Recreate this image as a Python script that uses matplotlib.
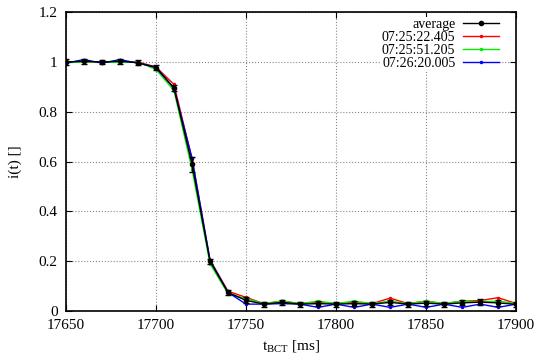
import matplotlib
matplotlib.use("Agg")
import matplotlib.pyplot as plt
from matplotlib.lines import Line2D

plt.rcParams['font.family'] = ['Liberation Serif', 'DejaVu Serif']
plt.rcParams['mathtext.fontset'] = 'stix'

t = [17650, 17660, 17670, 17680, 17690, 17700, 17710, 17720, 17730, 17740,
     17750, 17760, 17770, 17780, 17790, 17800, 17810, 17820, 17830, 17840,
     17850, 17860, 17870, 17880, 17890, 17900]

avg = [1.0, 1.003, 1.0, 1.003, 0.997, 0.977, 0.895, 0.59, 0.2, 0.075,
       0.043, 0.028, 0.035, 0.028, 0.03, 0.028, 0.03, 0.028, 0.035, 0.028,
       0.032, 0.028, 0.033, 0.036, 0.033, 0.027]
avg_err = [0.012, 0.01, 0.01, 0.01, 0.01, 0.01, 0.012, 0.03, 0.01, 0.01,
           0.012, 0.01, 0.01, 0.01, 0.01, 0.01, 0.01, 0.01, 0.01, 0.01,
           0.01, 0.01, 0.01, 0.012, 0.012, 0.01]

run1 = [1.0, 1.0, 1.0, 1.0, 1.0, 0.98, 0.91, 0.61, 0.205, 0.08,
        0.055, 0.03, 0.04, 0.03, 0.035, 0.03, 0.035, 0.03, 0.052, 0.03,
        0.04, 0.03, 0.04, 0.042, 0.054, 0.03]
run2 = [0.998, 1.0, 1.0, 0.998, 1.0, 0.97, 0.885, 0.57, 0.19, 0.07,
        0.05, 0.03, 0.04, 0.03, 0.04, 0.03, 0.04, 0.03, 0.04, 0.03,
        0.04, 0.03, 0.04, 0.037, 0.04, 0.03]
run3 = [0.995, 1.01, 0.995, 1.01, 0.995, 0.98, 0.895, 0.615, 0.205, 0.075,
        0.028, 0.028, 0.03, 0.028, 0.015, 0.028, 0.015, 0.028, 0.015, 0.028,
        0.015, 0.028, 0.015, 0.028, 0.015, 0.028]

labels = ['average', '07:25:22.405', '07:25:51.205', '07:26:20.005']
colors = ['#ff0000', '#00ee00', '#0000ff']

fig = plt.figure(figsize=(5.36, 3.58), dpi=100)
ax = fig.add_axes([0.123, 0.131, 0.840, 0.835])

handles = [Line2D([], [], color='black', lw=1.0, marker='o', ms=3)]
for vals, c in zip([run1, run2, run3], colors):
    h, = ax.plot(t, vals, color=c, lw=1.0, marker='o', ms=1.5, zorder=3)
    handles.append(h)

ax.errorbar(t, avg, yerr=avg_err, color='black', lw=1.0, marker='o', ms=3,
            capsize=2.5, elinewidth=1.0, zorder=4)

ax.set_xlim(17650, 17900)
ax.set_ylim(0, 1.2)
ax.set_xticks([17650, 17700, 17750, 17800, 17850, 17900])
ax.set_yticks([0, 0.2, 0.4, 0.6, 0.8, 1.0, 1.2])
ax.set_yticklabels(['0', '0.2', '0.4', '0.6', '0.8', '1', '1.2'])
ax.tick_params(direction='in', top=True, right=True, labelsize=11, length=4, pad=6)
ax.grid(True, color='#888888', linestyle=':', lw=0.8)
for s in ax.spines.values():
    s.set_linewidth(1.2)

ax.set_xlabel(r'$\mathregular{t_{BCT}}$ [ms]', fontsize=11)
ax.set_ylabel('i(t) []', fontsize=11, labelpad=12)

leg = ax.legend(handles, labels, loc='upper right', bbox_to_anchor=(0.965, 0.984),
                frameon=True, fontsize=10, markerfirst=False, handlelength=2.6,
                borderaxespad=0.0, labelspacing=0.0, handletextpad=0.55,
                borderpad=0.1)
leg.get_frame().set_edgecolor('none')
leg.get_frame().set_facecolor('white')
leg.get_frame().set_alpha(1.0)
leg._legend_box.align = 'right'
for txt in leg.get_texts():
    txt.set_ha('right')

fig.savefig('out.png', dpi=100)
